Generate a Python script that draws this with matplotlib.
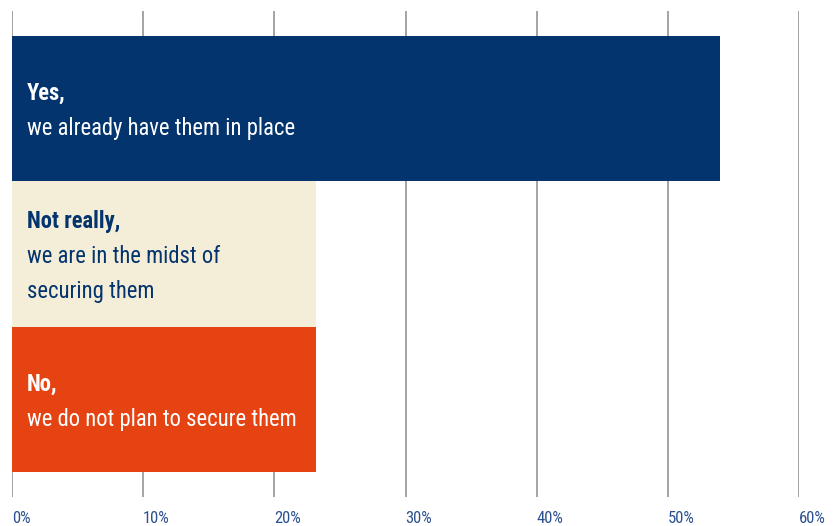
import matplotlib
matplotlib.use("Agg")
import matplotlib.pyplot as plt

plt.rcParams["font.family"] = ["Roboto Condensed", "DejaVu Sans"]

answers = ["Yes,", "Not really,", "No,"]
details = [
    ["we already have them in place"],
    ["we are in the midst of", "securing them"],
    ["we do not plan to secure them"],
]
shares = [54, 23.2, 23.2]
ticks = [0, 10, 20, 30, 40, 50, 60]
tick_labels = ["0%", "10%", "20%", "30%", "40%", "50%", "60%"]

bar_colors = ["#03346E", "#F4EDD7", "#E64312"]
text_colors = ["white", "#03346E", "white"]

fig = plt.figure(figsize=(8.4, 5.26), dpi=100)
ax = fig.add_axes([12 / 840, 1 - 497 / 526, 787 / 840, 486 / 526])

for t in ticks:
    ax.axvline(t, color="#8a8a8a", lw=1.1, zorder=0)

ypos = list(range(len(answers)))
ax.barh(ypos, shares, height=1.0, color=bar_colors, zorder=2)

step = 0.2414
for i, (head, lines) in enumerate(zip(answers, details)):
    rows = [head] + lines
    start = -step * (len(rows) - 1) / 2 + 0.015
    for j, row in enumerate(rows):
        ax.text(1.15, i + start + j * step, row, color=text_colors[i],
                fontsize=16.3, fontweight="bold" if j == 0 else "normal",
                va="center", ha="left", zorder=3)

ax.set_xlim(0, 60)
ax.set_ylim(2.672, -0.672)
ax.set_xticks(ticks)
ax.set_xticklabels(tick_labels, ha="left", color="#2C5190", fontsize=12)
ax.tick_params(axis="x", length=0, pad=10)
ax.set_yticks([])
for s in ax.spines.values():
    s.set_visible(False)

fig.savefig("out.png", dpi=100)
